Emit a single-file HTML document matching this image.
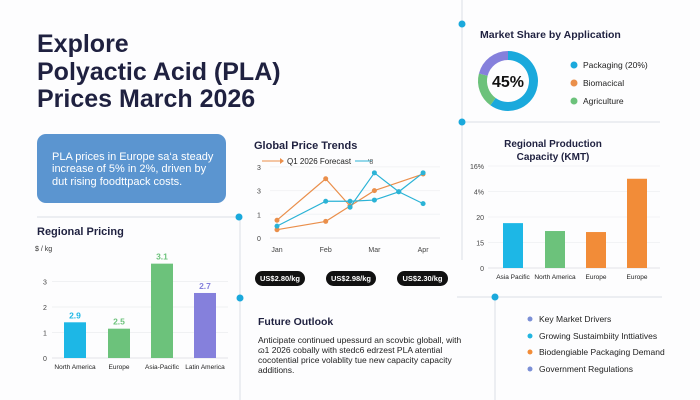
<!DOCTYPE html>
<html><head><meta charset="utf-8"><style>
body{margin:0;background:#fff;font-family:"Liberation Sans",sans-serif}
svg{display:block}
text{font-family:"Liberation Sans",sans-serif}
</style></head><body>
<svg id="s" width="700" height="400" viewBox="0 0 700 400">
<rect width="700" height="400" fill="#fdfdfe"/>
<g fill="#1f2140" font-weight="bold" font-size="25">
<text x="37" y="52">Explore</text>
<text x="37" y="80">Polyactic Acid (PLA)</text>
<text x="37" y="107">Prices March 2026</text>
</g>
<g>
<rect x="37" y="134" width="189" height="69" rx="9" fill="#5b95d0"/>
<text x="52" y="160" fill="#fff" font-size="11">PLA prices in Europe sa‘a steady</text>
<text x="52" y="172" fill="#fff" font-size="11">increase of 5% in 2%, driven by</text>
<text x="52" y="185" fill="#fff" font-size="11">dut rising foodttpack costs.</text>
</g>
<g stroke="#e6e9ee" stroke-width="1.5">
<line x1="37" y1="217" x2="238" y2="217"/>
<line x1="240" y1="217" x2="240" y2="400"/>
<line x1="462" y1="0" x2="462" y2="260"/>
<line x1="462" y1="122" x2="660" y2="122"/>
<line x1="457" y1="297" x2="662" y2="297"/>
<line x1="495" y1="297" x2="495" y2="400"/>
</g>
<g fill="#1aa9dc">
<circle cx="239" cy="217" r="3.5"/><circle cx="240" cy="298" r="3.5"/>
<circle cx="462" cy="24" r="3.5"/><circle cx="462" cy="122" r="3.5"/>
<circle cx="495" cy="297" r="3.5"/>
</g>
<text x="37" y="235" font-size="11" font-weight="bold" fill="#1f2140">Regional Pricing</text>
<text x="35" y="251" font-size="7" fill="#333">$ / kg</text>
<g id="rp"></g>
<text x="254" y="149" font-size="11" font-weight="bold" fill="#1f2140">Global Price Trends</text>
<g>
<line x1="262" y1="161" x2="282" y2="161" stroke="#ea8f4b" stroke-width="1"/><path d="M280 158 L284 161 L280 164Z" fill="#ea8f4b"/>
<text x="287" y="164" font-size="8" fill="#222">Q1 2026 Forecast</text>
<line x1="355" y1="161" x2="372" y2="161" stroke="#2bb3d6" stroke-width="1"/>
<text x="368" y="164" font-size="7" fill="#555">'8</text>
</g>
<g id="gt"></g>
<g font-size="7.5" font-weight="bold" fill="#fff">
<rect x="255" y="271" width="50" height="15" rx="7.5" fill="#111"/><text x="280" y="281" text-anchor="middle">US$2.80/kg</text>
<rect x="326" y="271" width="50" height="15" rx="7.5" fill="#111"/><text x="351" y="281" text-anchor="middle">US$2.98/kg</text>
<rect x="397" y="271" width="51" height="15" rx="7.5" fill="#111"/><text x="422.5" y="281" text-anchor="middle">US$2.30/kg</text>
</g>
<text x="480" y="38" font-size="10.5" font-weight="bold" fill="#1f2140">Market Share by Application</text>
<g id="dn"></g>
<text x="508" y="87" font-size="16" font-weight="bold" fill="#111" text-anchor="middle">45%</text>
<g font-size="8.5" fill="#222">
<circle cx="574" cy="65" r="3.5" fill="#1aa9dc"/><text x="583" y="68">Packaging (20%)</text>
<circle cx="574" cy="83" r="3.5" fill="#ea8f4b"/><text x="583" y="86">Biomacical</text>
<circle cx="574" cy="101" r="3.5" fill="#6cc27b"/><text x="583" y="104">Agriculture</text>
</g>
<g font-size="10" font-weight="bold" fill="#1f2140" text-anchor="middle">
<text x="553" y="147">Regional Production</text><text x="553" y="160">Capacity (KMT)</text>
</g>
<g id="pc"></g>
<text x="258" y="325" font-size="10.5" font-weight="bold" fill="#1f2140">Future Outlook</text>
<g font-size="8.5" fill="#222">
<text x="258" y="343">Anticipate continued upessurd an scovbic globall, with</text>
<text x="258" y="353">ɷ1 2026 cobally with stedc6 edrzest PLA atential</text>
<text x="258" y="363">cocotential price volablity tue new capacity capacity</text>
<text x="258" y="373">additions.</text>
</g>
<g font-size="8.5" fill="#222">
<circle cx="530" cy="319" r="2.5" fill="#7b8fd6"/><text x="539" y="322">Key Market Drivers</text>
<circle cx="530" cy="336" r="2.5" fill="#22b5e0"/><text x="539" y="339">Growing Sustaimbiity Inttiatives</text>
<circle cx="530" cy="352" r="2.5" fill="#f28c38"/><text x="539" y="355">Biodengiable Packaging Demand</text>
<circle cx="530" cy="369" r="2.5" fill="#7b8fd6"/><text x="539" y="372">Government Regulations</text>
</g>
</svg>
<script>
const NS="http://www.w3.org/2000/svg";
function mk(p,t,a,txt){const e=document.createElementNS(NS,t);for(const k in a)e.setAttribute(k,a[k]);if(txt!==undefined)e.textContent=txt;p.appendChild(e);return e;}

// Regional pricing
const rpCats=["North America","Europe","Asia-Pacific","Latin America"];
const rpValues=[1.4,1.15,3.7,2.55];
const rpLabels=["2.9","2.5","3.1","2.7"];
const rpTicks=["0","1","2","3"];
const rpColors=["#1db7e6","#6cc27b","#6cc27b","#8580dc"];
// Global trends (x index: 0=Jan,1=Feb,1.5=mid,2=Mar,2.5=mid,3=Apr)
const gtMonths=["Jan","Feb","Mar","Apr"];
const gtTicks=["0","1","3","3"];
const orangeAX=[0,1,1.5], orangeA=[0.75,2.5,1.35];
const orangeBX=[0,1,1.5,2,3], orangeB=[0.35,0.7,1.35,2.0,2.7];
const tealAX=[0,1,1.5,2,2.5,3], tealA=[0.5,1.55,1.55,1.6,1.95,2.75];
const tealBX=[1.5,2,2.5,3], tealB=[1.3,2.75,1.95,1.45];
// Donut
const dnValues=[60,19,21];
const dnColors=["#1aa9dc","#6cc27b","#8580dc"];
// Capacity
const pcCats=["Asia Pacific","North America","Europe","Europe"];
const pcValues=[1.76,1.45,1.41,3.5];
const pcTicks=["0","15","20","4%","16%"];
const pcColors=["#1db7e6","#6cc27b","#f28c38","#f28c38"];

(function(){
 const g=document.getElementById('rp');
 const y=v=>358-v*25.5;
 rpTicks.forEach((t,i)=>{
  const l=mk(g,'line',{x1:52,x2:228,y1:y(i),y2:y(i),stroke:i?'#f0f1f3':'#e2e4e8'});
  
  const tx=mk(g,'text',{x:45,y:y(i)+3,'font-size':7,fill:'#444','text-anchor':'middle'},t);
  
 });
 const xs=[64,108,151,194];
 rpValues.forEach((v,i)=>{
  const r=mk(g,'rect',{x:xs[i],y:y(v),width:22,height:v*25.5,fill:rpColors[i]});
  
  const lb=mk(g,'text',{x:xs[i]+11,y:y(v)-4,'font-size':8.5,'font-weight':'bold',fill:rpColors[i],'text-anchor':'middle'},rpLabels[i]);
  
  const c=mk(g,'text',{x:xs[i]+11,y:369,'font-size':6.5,fill:'#222','text-anchor':'middle'},rpCats[i]);
  
 });
})();

(function(){
 const g=document.getElementById('gt');
 const x=i=>277+i*48.7, y=v=>238-v*23.7;
 gtTicks.forEach((t,i)=>{
  const l=mk(g,'line',{x1:270,x2:440,y1:y(i),y2:y(i),stroke:i?'#f2f3f5':'#e2e4e8'});
  
  const tx=mk(g,'text',{x:259,y:y(i)+3,'font-size':7,fill:'#444','text-anchor':'middle'},t);
  
 });
 gtMonths.forEach((m,i)=>{
  const tx=mk(g,'text',{x:x(i),y:252,'font-size':7,fill:'#444','text-anchor':'middle'},m);
  
 });
 function series(xs,vs,col,name){
  const pts=xs.map((xi,k)=>x(xi)+','+y(vs[k])).join(' ');
  const p=mk(g,'polyline',{points:pts,fill:'none',stroke:col,'stroke-width':1.2});
  
  xs.forEach((xi,k)=>{const c=mk(g,'circle',{cx:x(xi),cy:y(vs[k]),r:2.5,fill:col});
   });
 }
 series(orangeAX,orangeA,'#ea8f4b','forecast-line-a');
 series(orangeBX,orangeB,'#ea8f4b','forecast-line-b');
 series(tealAX,tealA,'#2bb3d6','actual-line-a');
 series(tealBX,tealB,'#2bb3d6','actual-line-b');
})();

(function(){
 const g=document.getElementById('dn');
 const cx=508,cy=81,r=25.5;const tot=dnValues.reduce((a,b)=>a+b,0);
 let a0=0;
 dnValues.forEach((v,i)=>{
  const a1=a0+v/tot*2*Math.PI;
  const p=(a)=>[cx+r*Math.sin(a),cy-r*Math.cos(a)];
  const [x0,y0]=p(a0),[x1,y1]=p(a1);
  const s=mk(g,'path',{d:`M${x0} ${y0} A${r} ${r} 0 ${a1-a0>Math.PI?1:0} 1 ${x1} ${y1}`,fill:'none',stroke:dnColors[i],'stroke-width':9});
  
  a0=a1;
 });
})();

(function(){
 const g=document.getElementById('pc');
 const y=v=>268-v*25.5;
 pcTicks.forEach((t,i)=>{
  const l=mk(g,'line',{x1:488,x2:660,y1:y(i),y2:y(i),stroke:i?'#f2f3f5':'#e2e4e8'});
  
  const tx=mk(g,'text',{x:484,y:y(i)+3,'font-size':7,fill:'#444','text-anchor':'end'},t);
  
 });
 const xs=[503,545,586,627];
 pcValues.forEach((v,i)=>{
  const r=mk(g,'rect',{x:xs[i],y:y(v),width:20,height:v*25.5,fill:pcColors[i]});
  
  const c=mk(g,'text',{x:xs[i]+10,y:279,'font-size':6.5,fill:'#222','text-anchor':'middle'},pcCats[i]);
  
 });
})();
</script>
</body></html>
